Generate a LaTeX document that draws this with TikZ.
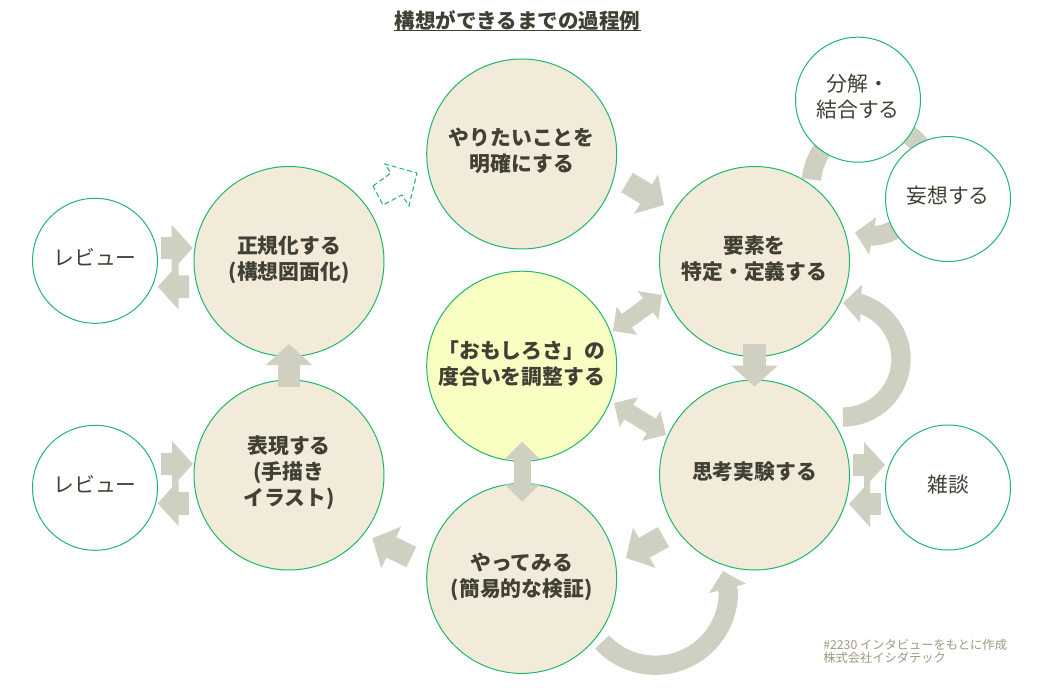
\documentclass[tikz,border=0pt]{standalone}
\usepackage{fontspec}
\setmainfont{Noto Sans CJK JP}
\usetikzlibrary{arrows.meta,calc}
\definecolor{ringgreen}{HTML}{1DB76B}
\definecolor{stepfill}{HTML}{F3EBD9}
\definecolor{funfill}{HTML}{F9FFC2}
\definecolor{arrowgray}{HTML}{D0D0C2}
\definecolor{inkgray}{HTML}{404035}
\definecolor{notegray}{HTML}{9C9880}
\tikzset{
    bigstep/.style={circle,draw=ringgreen,line width=0.75pt,fill=stepfill,minimum size=142.5pt,inner sep=0pt,align=center,text=inkgray,font=\fontsize{15.6}{19.5}\selectfont\bfseries,execute at end node={\rule[-6pt]{0pt}{1pt}}},
    smallstep/.style={circle,draw=ringgreen,line width=0.75pt,fill=white,minimum size=93.75pt,inner sep=0pt,align=center,text=inkgray,font=\fontsize{15.6}{19.5}\selectfont,execute at end node={\rule[-6pt]{0pt}{1pt}}},
    flatarrow/.style={draw=arrowgray,line width=17pt,-{Triangle[length=15.75pt,width=33.75pt]}},
    twoway/.style={draw=arrowgray,line width=12.75pt,{Triangle[length=13pt,width=25.5pt]}-{Triangle[length=13pt,width=25.5pt]}},
    looparrow/.style={draw=arrowgray,line width=14.5pt,-{Triangle[length=13.5pt,width=27.75pt]}},
    dasharrow/.style={draw=ringgreen,line width=0.75pt,dash pattern=on 3.8pt off 2.2pt,fill=white},
}
\begin{document}
\begin{tikzpicture}[x=0.75pt,y=-0.75pt]
    \useasboundingbox (0,0) rectangle (1054,688);

    % arcs run behind the circles
    \coordinate (want) at (521.7,154);
    \coordinate (spec) at (754.5,261.5);
    \coordinate (think) at (754.5,475);
    \coordinate (try) at (521.7,578.4);
    \draw[looparrow] ($(spec)+(57,-81.9)$) arc[start angle=185,end angle=320,radius=61.7] .. controls (946,176) and (915,233) .. (873.5,236) -- ($(spec)+(100.5,-29)$);
    \draw[looparrow] ($(think)+(88.5,-58)$) arc[start angle=90,end angle=-72,radius=58] -- ($(spec)+(88.5,41.5)$);
    \draw[looparrow] ($(try)+(80.3,63.6)$) arc[start angle=137,end angle=0,radius=73] -- ($(think)+(-31.5,96)$);

    \node[bigstep] (want) at (want) {やりたいことを\\明確にする};
    \node[bigstep] (spec) at (spec) {要素を\\特定・定義する};
    \node[bigstep] (think) at (think) {思考実験する};
    \node[bigstep] (try) at (try) {やってみる\\(簡易的な検証)};
    \node[bigstep] (express) at (289,475) {表現する\\(手描き\\イラスト)};
    \node[bigstep] (normal) at (289,261.5) {正規化する\\(構想図面化)};
    \node[bigstep,fill=funfill] (fun) at (521.7,366.2) {「おもしろさ」の\\度合いを調整する};

    \node[smallstep] (reviewA) at (95,260.8) {レビュー};
    \node[smallstep] (reviewB) at (95,487.8) {レビュー};
    \node[smallstep] (chat) at (948,487.5) {雑談};
    \node[smallstep] (split) at (858,99.7) {分解・\\結合する};
    \node[smallstep] (idea) at (948,199) {妄想する};

    \draw[flatarrow] ($(want)+(105.3,28.5)$) -- ($(spec)+(-90.5,-56.5)$);
    \draw[flatarrow] ($(spec)+(0,82.5)$) -- ($(think)+(0,-88.3)$);
    \draw[flatarrow] ($(think)+(-91,62)$) -- ($(try)+(104.3,-20.4)$);
    \draw[flatarrow] ($(try)+(-110.4,-21.4)$) -- ($(express)+(83.3,63.3)$);
    \draw[flatarrow] ($(express)+(0,-88.3)$) -- ($(normal)+(0,82.5)$);

    \draw[twoway] ($(fun)+(91.3,-35.2)$) -- ($(spec)+(-92.5,33.5)$);
    \draw[twoway] ($(fun)+(92.3,36.8)$) -- ($(think)+(-88.5,-40)$);
    \draw[twoway] ($(fun)+(0.5,75.5)$) -- ($(try)+(0.5,-76.7)$);

    \draw[flatarrow] ($(reviewA)+(65.7,-12.8)$) -- ($(normal)+(-96.3,-13.5)$);
    \draw[flatarrow] ($(normal)+(-100,25.2)$) -- ($(reviewA)+(62.7,25.9)$);
    \draw[flatarrow] ($(reviewB)+(66,-23.8)$) -- ($(express)+(-96,-11)$);
    \draw[flatarrow] ($(express)+(-100,28.3)$) -- ($(reviewB)+(62.7,15.5)$);
    \draw[flatarrow] ($(think)+(98.8,-10)$) -- ($(chat)+(-63,-22.5)$);
    \draw[flatarrow] ($(chat)+(-67,16.5)$) -- ($(think)+(94.5,29)$);

    % the one step not yet taken
    \draw[dasharrow] (373,186) -- (391,173) -- (385,164) -- (417,173) -- (409,206) -- (402,195) -- (383,205) -- cycle;

    \node[text=inkgray,font=\fontsize{15.4}{20}\selectfont\bfseries,inner sep=0pt] (title) at (517.5,20) {構想ができるまでの過程例};
    \draw[inkgray,line width=1.1pt] (title.south west) -- (title.south east);
    \node[text=notegray,font=\fontsize{9.2}{10.1}\selectfont,align=left,anchor=north west,inner sep=0pt] (note) at (823,638.5) {\#2230 インタビューをもとに作成\\株式会社イシダテック};
\end{tikzpicture}
\end{document}
